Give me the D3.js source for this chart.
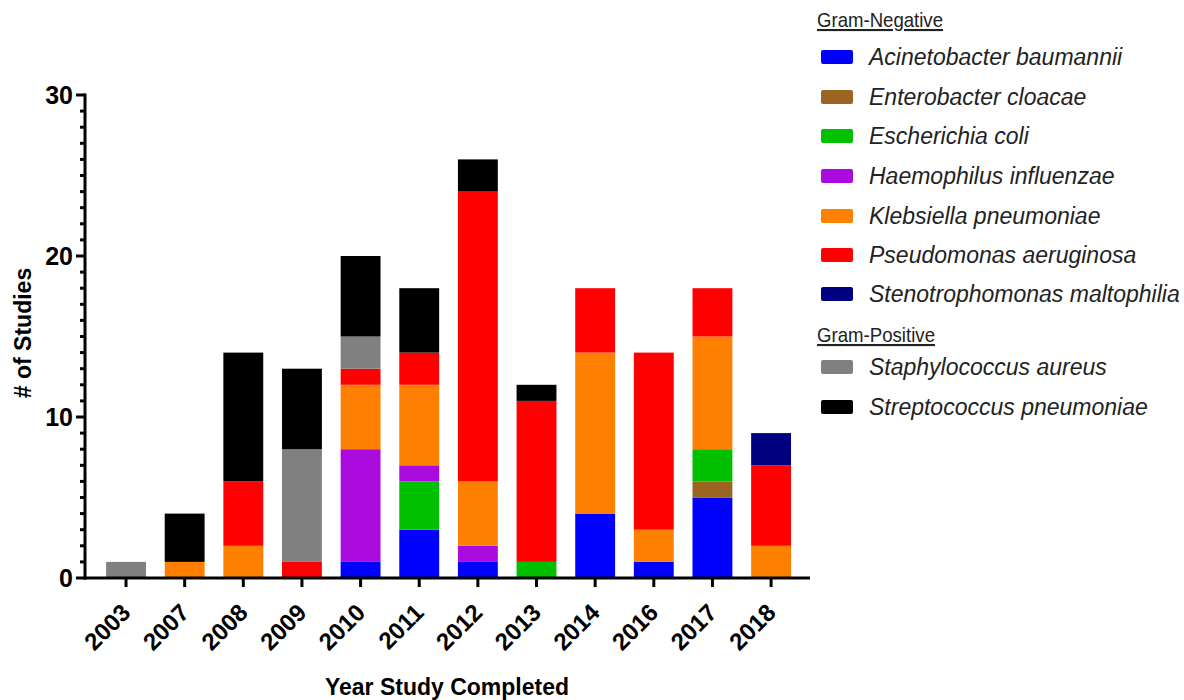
<!DOCTYPE html>
<html>
<head>
<meta charset="utf-8">
<script src="https://cdn.jsdelivr.net/npm/d3@7"></script>
<style>
  body { margin: 0; background: #fff; }
  svg text { font-family: "Liberation Sans", Arial, sans-serif; }
</style>
</head>
<body>
<div id="chart"></div>
<script>
const years = ["2003", "2007", "2008", "2009", "2010", "2011", "2012", "2013", "2014", "2016", "2017", "2018"];

const species = [
  "Acinetobacter baumannii",
  "Enterobacter cloacae",
  "Escherichia coli",
  "Haemophilus influenzae",
  "Klebsiella pneumoniae",
  "Pseudomonas aeruginosa",
  "Stenotrophomonas maltophilia",
  "Staphylococcus aureus",
  "Streptococcus pneumoniae",
];
const colors = ["#0000ff", "#996520", "#00c000", "#aa0ade", "#ff8000", "#ff0000", "#000080", "#808080", "#000000"];

// counts per year, one array per species (same order as years)
const acinetobacter = [0, 0, 0, 0, 1, 3, 1, 0, 4, 1, 5, 0];
const enterobacter  = [0, 0, 0, 0, 0, 0, 0, 0, 0, 0, 1, 0];
const ecoli         = [0, 0, 0, 0, 0, 3, 0, 1, 0, 0, 2, 0];
const haemophilus   = [0, 0, 0, 0, 7, 1, 1, 0, 0, 0, 0, 0];
const klebsiella    = [0, 1, 2, 0, 4, 5, 4, 0, 10, 2, 7, 2];
const pseudomonas   = [0, 0, 4, 1, 1, 2, 18, 10, 4, 11, 3, 5];
const stenotroph    = [0, 0, 0, 0, 0, 0, 0, 0, 0, 0, 0, 2];
const staph         = [1, 0, 0, 7, 2, 0, 0, 0, 0, 0, 0, 0];
const strep         = [0, 3, 8, 5, 5, 4, 2, 1, 0, 0, 0, 0];

const yTicks = [0, 10, 20, 30];

const series = [acinetobacter, enterobacter, ecoli, haemophilus, klebsiella, pseudomonas, stenotroph, staph, strep];
const table = years.map((yr, i) => {
  const row = { year: yr };
  species.forEach((s, j) => (row[s] = series[j][i]));
  return row;
});

const svg = d3.select("#chart").append("svg").attr("width", 1184).attr("height", 700);

const x = d3.scaleBand().domain(years).range([96.7, 800.4]).paddingInner(0.32).paddingOuter(0.16);
const y = d3.scaleLinear().domain([0, 30]).range([578, 95]);
const color = d3.scaleOrdinal().domain(species).range(colors);

const stacked = d3.stack().keys(species)(table);

svg.append("g")
  .selectAll("g")
  .data(stacked)
  .join("g")
  .attr("fill", (d) => color(d.key))
  .selectAll("rect")
  .data((d) => d.filter((p) => p[1] > p[0]))
  .join("rect")
  .attr("x", (d) => x(d.data.year))
  .attr("y", (d) => y(d[1]))
  .attr("width", x.bandwidth())
  .attr("height", (d) => y(d[0]) - y(d[1]));

// y axis: minor ticks every 1, major every 10
const yAxis = svg.append("g").attr("transform", "translate(85,0)");
yAxis.selectAll("line.minor")
  .data(d3.range(0, 31))
  .join("line")
  .attr("x1", (d) => (d % 10 === 0 ? -9 : -5))
  .attr("x2", 0)
  .attr("y1", (d) => y(d))
  .attr("y2", (d) => y(d))
  .attr("stroke", "#000")
  .attr("stroke-width", 3);
yAxis.append("line")
  .attr("x1", 0).attr("x2", 0)
  .attr("y1", y(30) - 1.5).attr("y2", y(0) + 1.5)
  .attr("stroke", "#000").attr("stroke-width", 3);
yAxis.selectAll("text")
  .data(yTicks)
  .join("text")
  .attr("x", -12)
  .attr("y", (d) => y(d))
  .attr("dy", "0.36em")
  .attr("text-anchor", "end")
  .attr("font-size", 25)
  .attr("font-weight", "bold")
  .text((d) => d);

// x axis
const xAxis = svg.append("g").attr("transform", `translate(0,${y(0)})`);
xAxis.append("line")
  .attr("x1", 83.5).attr("x2", 810)
  .attr("stroke", "#000").attr("stroke-width", 3);
xAxis.selectAll("line.tick")
  .data(years)
  .join("line")
  .attr("class", "tick")
  .attr("x1", (d) => x(d) + x.bandwidth() / 2)
  .attr("x2", (d) => x(d) + x.bandwidth() / 2)
  .attr("y1", 0).attr("y2", 9)
  .attr("stroke", "#000").attr("stroke-width", 3);
xAxis.selectAll("text")
  .data(years)
  .join("text")
  .attr("transform", (d) => `translate(${x(d) + x.bandwidth() / 2 + 6},${36}) rotate(-45)`)
  .attr("text-anchor", "end")
  .attr("font-size", 24)
  .attr("font-weight", "bold")
  .text((d) => d);

svg.append("text")
  .attr("x", 447).attr("y", 695)
  .attr("text-anchor", "middle")
  .attr("font-size", 23)
  .attr("font-weight", "bold")
  .text("Year Study Completed");

svg.append("text")
  .attr("transform", "translate(31,333) rotate(-90)")
  .attr("text-anchor", "middle")
  .attr("font-size", 23)
  .attr("font-weight", "bold")
  .text("# of Studies");

// legend
const legend = svg.append("g");
const headers = [
  { label: "Gram-Negative", y: 27, w: 126 },
  { label: "Gram-Positive", y: 342, w: 118 },
];
legend.selectAll("text.header")
  .data(headers)
  .join("text")
  .attr("class", "header")
  .attr("x", 817)
  .attr("y", (d) => d.y)
  .attr("font-size", 21)
  .attr("textLength", (d) => d.w)
  .attr("lengthAdjust", "spacingAndGlyphs")
  .attr("text-decoration", "underline")
  .attr("fill", "#222")
  .text((d) => d.label);

const itemY = [57, 97, 136, 176, 216, 255, 294, 367, 407];
const items = legend.selectAll("g.item")
  .data(species)
  .join("g")
  .attr("class", "item")
  .attr("transform", (d, i) => `translate(821,${itemY[i]})`);
items.append("rect")
  .attr("x", 0).attr("y", -7)
  .attr("width", 32).attr("height", 14)
  .attr("rx", 2)
  .attr("fill", (d) => color(d));
items.append("text")
  .attr("x", 48)
  .attr("dy", "0.36em")
  .attr("font-size", 23)
  .attr("font-style", "italic")
  .attr("fill", "#222")
  .text((d) => d);
</script>
</body>
</html>
